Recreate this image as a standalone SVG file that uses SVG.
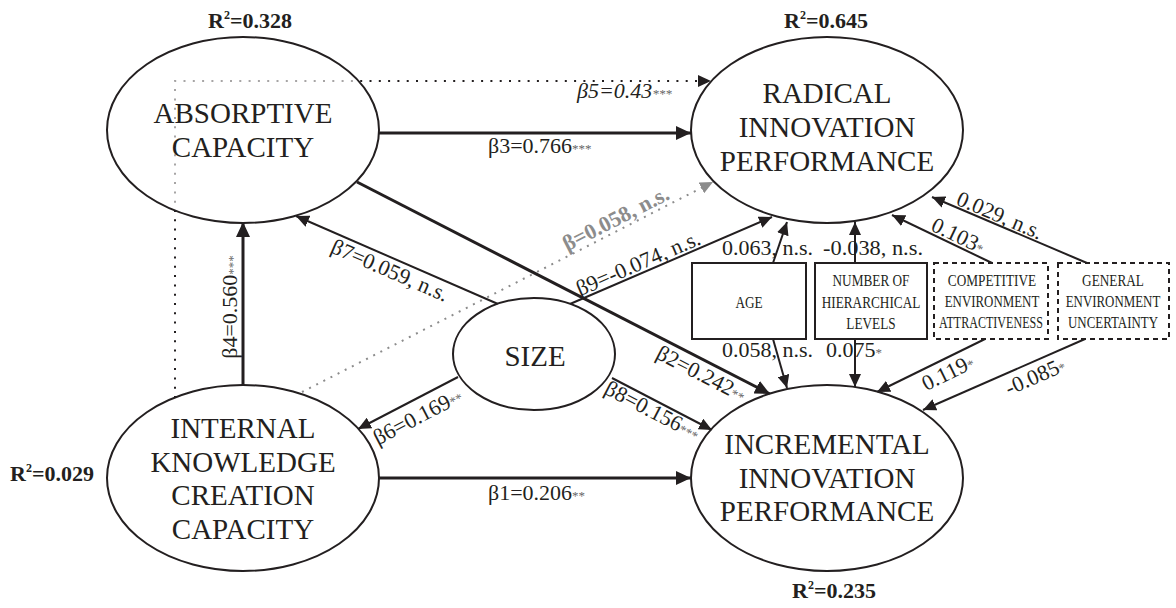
<svg xmlns="http://www.w3.org/2000/svg" width="1176" height="608" viewBox="0 0 1176 608">
<style>
text{font-family:"Liberation Serif","Times New Roman",serif;fill:#231f20}
.node{fill:#fff;fill-opacity:.6;stroke:#231f20;stroke-width:2}
.nt{font-size:29px;text-anchor:middle}
.r2{font-size:22px;font-weight:bold}
.sup{font-size:12px}
.lb{font-size:22px}
.lbi{font-size:22px;font-style:italic}
.st{font-size:13px;fill:#666}
.ctl{font-size:22px}
.box{fill:#fff;stroke:#231f20;stroke-width:2}
.dbox{fill:#fff;stroke:#231f20;stroke-width:2;stroke-dasharray:5 4}
.bt{font-size:17px;text-anchor:middle}
.thick{stroke:#231f20;stroke-width:3;fill:none}
.thin{stroke:#231f20;stroke-width:2;fill:none}
.dot{stroke:#231f20;stroke-width:2;fill:none;stroke-dasharray:2 7.3}
.gdot{stroke:#8c8c8c;stroke-width:2;fill:none;stroke-dasharray:2 6}
.glb{font-size:22px;font-weight:bold;fill:#8c8c8c}
</style>
<defs>
<marker id="ab" markerUnits="userSpaceOnUse" markerWidth="16" markerHeight="14" refX="15" refY="7" orient="auto"><path d="M0,0 L15,7 L0,14 z" fill="#231f20"/></marker>
<marker id="as" markerUnits="userSpaceOnUse" markerWidth="14" markerHeight="12" refX="13" refY="6" orient="auto"><path d="M0,0 L13,6 L0,12 z" fill="#231f20"/></marker>
<marker id="ag" markerUnits="userSpaceOnUse" markerWidth="14" markerHeight="12" refX="13" refY="6" orient="auto"><path d="M0,0 L13,6 L0,12 z" fill="#8c8c8c"/></marker>
</defs>
<rect width="1176" height="608" fill="#fff"/>
<g id="connectors">
<path class="dot" d="M175,398 L175,81 L711,81" marker-end="url(#as)"/>
<path class="gdot" d="M302,392 L713,182" marker-end="url(#ag)"/>
<path class="thick" d="M378,133 L691,133" marker-end="url(#ab)"/>
<path class="thick" d="M378,478 L691,478" marker-end="url(#ab)"/>
<path class="thick" d="M243,385 L243,222" marker-end="url(#ab)"/>
<path class="thick" d="M357,182 L770,394" marker-end="url(#ab)"/>
<path class="thin" d="M498,304 L296,216" marker-end="url(#as)"/>
<path class="thin" d="M570,304 L772,217" marker-end="url(#as)"/>
<path class="thin" d="M458,377 L358,429" marker-end="url(#as)"/>
<path class="thin" d="M612,378 L712,430" marker-end="url(#as)"/>
<path class="thin" d="M773,263 L787,222" marker-end="url(#as)"/>
<path class="thin" d="M773,339 L787,388" marker-end="url(#as)"/>
<path class="thin" d="M855,263 L855,222" marker-end="url(#as)"/>
<path class="thin" d="M855,339 L855,387" marker-end="url(#as)"/>
<path class="thin" d="M992,263 L892,215" marker-end="url(#as)"/>
<path class="thin" d="M985,339 L877,392" marker-end="url(#as)"/>
<path class="thin" d="M1087,263 L932,197" marker-end="url(#as)"/>
<path class="thin" d="M1085,339 L923,410" marker-end="url(#as)"/>
<text class="lb" x="488" y="153">β3=0.766<tspan class="st">***</tspan></text>
<text class="lbi" x="577" y="98">β5=0.43<tspan class="st">***</tspan></text>
<text class="lb" x="488" y="500">β1=0.206<tspan class="st">**</tspan></text>
<text class="lb" text-anchor="middle" transform="translate(237,307) rotate(-90)">β4=0.560<tspan class="st">***</tspan></text>
<text class="lb" text-anchor="middle" transform="translate(387,277) rotate(23.5)">β7=0.059, n.s.</text>
<text class="lb" text-anchor="middle" transform="translate(641,270) rotate(-23.3)">β9=-0.074, n.s.</text>
<text class="glb" text-anchor="middle" transform="translate(619,225) rotate(-27.1)">β=0.058, n.s.</text>
<text class="lb" text-anchor="middle" transform="translate(698,380) rotate(27.2)">β2=0.242<tspan class="st">**</tspan></text>
<text class="lb" text-anchor="middle" transform="translate(421,423) rotate(-27.5)">β6=0.169<tspan class="st">**</tspan></text>
<text class="lb" text-anchor="middle" transform="translate(649,417) rotate(27.5)">β8=0.156<tspan class="st">***</tspan></text>
<text class="ctl" x="722" y="255" textLength="91" lengthAdjust="spacingAndGlyphs">0.063, n.s.</text>
<text class="ctl" x="823" y="255" textLength="100" lengthAdjust="spacingAndGlyphs">-0.038, n.s.</text>
<text class="ctl" x="722" y="357" textLength="91" lengthAdjust="spacingAndGlyphs">0.058, n.s.</text>
<text class="ctl" x="826" y="357">0.075<tspan class="st">*</tspan></text>
<text class="ctl" text-anchor="middle" transform="translate(955,242) rotate(25.6)">0.103<tspan class="st">*</tspan></text>
<text class="ctl" text-anchor="middle" transform="translate(997,222) rotate(23.1)">0.029, n.s.</text>
<text class="ctl" text-anchor="middle" transform="translate(951,379) rotate(-26.1)">0.119<tspan class="st">*</tspan></text>
<text class="ctl" text-anchor="middle" transform="translate(1038,383) rotate(-23.7)">-0.085<tspan class="st">*</tspan></text>
</g>
<g id="absorptive">
<ellipse class="node" cx="243" cy="130" rx="136" ry="93"/>
<text class="nt" x="243" y="123">ABSORPTIVE</text>
<text class="nt" x="243" y="157">CAPACITY</text>
<text class="r2" x="208" y="28">R<tspan class="sup" dy="-9">2</tspan><tspan dy="9">=0.328</tspan></text>
</g>
<g id="radical">
<ellipse class="node" cx="827" cy="130" rx="136" ry="93"/>
<text class="nt" x="827" y="103">RADICAL</text>
<text class="nt" x="827" y="137">INNOVATION</text>
<text class="nt" x="827" y="171">PERFORMANCE</text>
<text class="r2" x="784" y="28">R<tspan class="sup" dy="-9">2</tspan><tspan dy="9">=0.645</tspan></text>
</g>
<g id="internal">
<ellipse class="node" cx="243" cy="478" rx="136" ry="93"/>
<text class="nt" x="243" y="438">INTERNAL</text>
<text class="nt" x="243" y="472">KNOWLEDGE</text>
<text class="nt" x="243" y="505">CREATION</text>
<text class="nt" x="243" y="539">CAPACITY</text>
<text class="r2" x="10" y="481">R<tspan class="sup" dy="-9">2</tspan><tspan dy="9">=0.029</tspan></text>
</g>
<g id="incremental">
<ellipse class="node" cx="827" cy="478" rx="136" ry="93"/>
<text class="nt" x="827" y="454">INCREMENTAL</text>
<text class="nt" x="827" y="488">INNOVATION</text>
<text class="nt" x="827" y="521">PERFORMANCE</text>
<text class="r2" x="792" y="598">R<tspan class="sup" dy="-9">2</tspan><tspan dy="9">=0.235</tspan></text>
</g>
<g id="size">
<ellipse class="node" cx="534" cy="354" rx="81" ry="56"/>
<text class="nt" x="535" y="366">SIZE</text>
</g>
<g id="age">
<rect class="box" x="692" y="263" width="114" height="76"/>
<text class="bt" transform="translate(749,308) scale(0.78,1)">AGE</text>
</g>
<g id="hierarchical">
<rect class="box" x="815" y="263" width="112" height="76"/>
<text class="bt" transform="translate(871,286) scale(0.78,1)">NUMBER OF</text>
<text class="bt" transform="translate(871,308) scale(0.78,1)">HIERARCHICAL</text>
<text class="bt" transform="translate(871,329) scale(0.78,1)">LEVELS</text>
</g>
<g id="competitive">
<rect class="dbox" x="934" y="263" width="114" height="76"/>
<text class="bt" transform="translate(992,286) scale(0.78,1)">COMPETITIVE</text>
<text class="bt" transform="translate(992,307) scale(0.76,1)">ENVIRONMENT</text>
<text class="bt" transform="translate(991,328) scale(0.71,1)">ATTRACTIVENESS</text>
</g>
<g id="general">
<rect class="dbox" x="1058" y="263" width="111" height="76"/>
<text class="bt" transform="translate(1113,286) scale(0.78,1)">GENERAL</text>
<text class="bt" transform="translate(1113,307) scale(0.76,1)">ENVIRONMENT</text>
<text class="bt" transform="translate(1113,328) scale(0.76,1)">UNCERTAINTY</text>
</g>
</svg>
